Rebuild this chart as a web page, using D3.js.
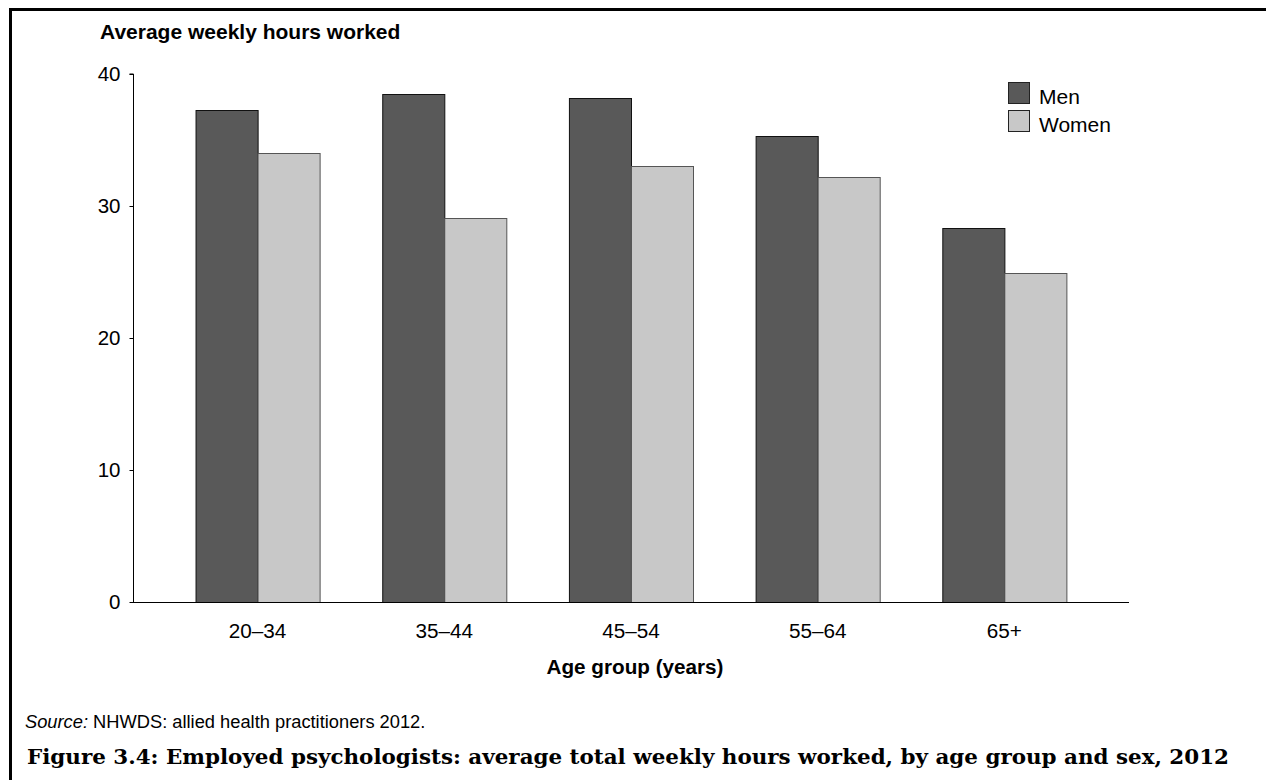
<!DOCTYPE html>
<html>
<head>
<meta charset="utf-8">
<script src="https://cdn.jsdelivr.net/npm/d3@7"></script>
<style>
  html, body { margin: 0; padding: 0; background: #fff; }
  svg { display: block; }
</style>
</head>
<body>
<svg id="chart" width="1266" height="780"></svg>
<script>
const categories = ["20–34", "35–44", "45–54", "55–64", "65+"];
const seriesNames = ["Men", "Women"];
const men = [37.3, 38.5, 38.2, 35.3, 28.3];
const women = [34.0, 29.1, 33.0, 32.2, 24.9];
const yTicks = [0, 10, 20, 30, 40];
const colors = { "Men": "#595959", "Women": "#c8c8c8" };
const strokes = { "Men": "#111", "Women": "#555" };

const svg = d3.select("#chart");
const font = "'Liberation Sans', Arial, sans-serif";

// frame (left + top)
svg.append("path").attr("d", "M10.5,780 L10.5,9.5 L1266,9.5")
  .attr("fill", "none").attr("stroke", "#000").attr("stroke-width", 3);

const m = { left: 133, right: 1129, top: 74, bottom: 602 };
const x0 = d3.scaleBand().domain(categories).range([m.left, m.right])
  .paddingInner(0.335).paddingOuter(0.335);
const x1 = d3.scaleBand().domain(seriesNames).range([0, x0.bandwidth()]);
const y = d3.scaleLinear().domain([0, 40]).range([m.bottom, m.top]);

const data = categories.map((c, i) => ({ cat: c, vals: [
  { key: "Men", v: men[i] }, { key: "Women", v: women[i] } ] }));

const g = svg.append("g");
g.selectAll("g.grp").data(data).join("g").attr("class", "grp")
  .attr("transform", d => `translate(${x0(d.cat)},0)`)
  .selectAll("rect").data(d => d.vals).join("rect")
  .attr("x", d => Math.round(x1(d.key)) + 0.5)
  .attr("y", d => Math.round(y(d.v)) + 0.5)
  .attr("width", x1.bandwidth())
  .attr("height", d => y(0) - Math.round(y(d.v)))
  .attr("fill", d => colors[d.key])
  .attr("stroke", d => strokes[d.key])
  .attr("stroke-width", 1);

// y axis
const yAxis = d3.axisLeft(y).tickValues(yTicks).tickSize(4).tickPadding(9);
const ya = svg.append("g").attr("transform", `translate(${m.left + 0.5},0)`).call(yAxis);
ya.select(".domain").attr("d", `M-4,${m.top}H0V${m.bottom}`);
ya.selectAll("text").attr("font-family", font).attr("font-size", 20.5).attr("fill", "#000");
ya.selectAll("line").attr("stroke", "#000");

// x axis
const xAxis = d3.axisBottom(x0).tickSize(0).tickPadding(21);
const xa = svg.append("g").attr("transform", `translate(0,${m.bottom + 0.5})`).call(xAxis);
xa.select(".domain").attr("d", `M${m.left},0H${m.right}`).attr("stroke", "#000");
xa.selectAll("text").attr("font-family", font).attr("font-size", 20.7).attr("fill", "#000");

// axis titles
svg.append("text").attr("x", 100).attr("y", 39)
  .attr("font-family", font).attr("font-weight", "bold").attr("font-size", 21)
  .text("Average weekly hours worked");
svg.append("text").attr("x", 635).attr("y", 674)
  .attr("text-anchor", "middle")
  .attr("font-family", font).attr("font-weight", "bold").attr("font-size", 20.7)
  .text("Age group (years)");

// legend
const lg = svg.append("g").attr("transform", "translate(1008,82)");
seriesNames.forEach((s, i) => {
  lg.append("rect").attr("x", 0.5).attr("y", i * 28 + 0.5).attr("width", 21).attr("height", 21)
    .attr("fill", colors[s]).attr("stroke", "#222");
  lg.append("text").attr("x", 31).attr("y", i * 27.5 + 22)
    .attr("font-family", font).attr("font-size", 21).text(s);
});

// source
const src = svg.append("text").attr("x", 25).attr("y", 728)
  .attr("font-family", font).attr("font-size", 18.3);
src.append("tspan").attr("font-style", "italic").text("Source:");
src.append("tspan").text(" NHWDS: allied health practitioners 2012.");

// figure title
svg.append("text").attr("x", 27).attr("y", 764)
  .attr("font-family", "'DejaVu Serif', serif").attr("font-weight", "bold").attr("font-size", 20)
  .attr("textLength", 1202).attr("lengthAdjust", "spacingAndGlyphs")
  .text("Figure 3.4: Employed psychologists: average total weekly hours worked, by age group and sex, 2012");
</script>
</body>
</html>
